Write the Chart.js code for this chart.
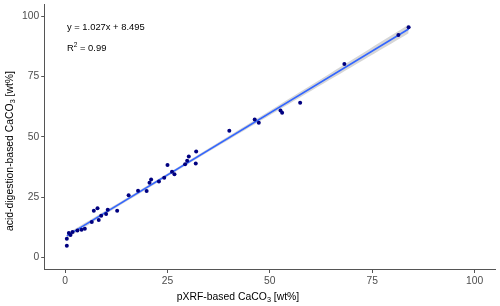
<!DOCTYPE html>
<html>
<head>
<meta charset="utf-8">
<script src="https://cdn.jsdelivr.net/npm/chart.js@4/dist/chart.umd.min.js"></script>
<style>
    html, body { margin: 0; padding: 0; background: #fff; }
    #wrap { width: 500px; height: 306px; }
</style>
</head>
<body>
<div id="wrap"><canvas id="caco3Chart" width="500" height="306"></canvas></div>
<script>
// pXRF vs acid-digestion CaCO3
const pxrfValues = [0.4, 0.4, 0.9, 1.3, 1.8, 3.0, 4.0, 4.8, 6.5, 7.0, 7.9, 8.2, 8.8, 10.0, 10.4, 12.7,
    15.5, 17.8, 19.9, 20.6, 21.0, 22.9, 24.2, 25.0, 26.1, 26.7, 29.3, 29.8, 30.2, 31.9, 32.0,
    40.1, 46.3, 47.3, 52.6, 53.0, 57.4, 68.2, 81.4, 83.9];
const acidValues = [4.8, 7.7, 10.1, 9.3, 10.5, 11.2, 11.5, 11.9, 14.7, 19.3, 20.4, 15.5, 17.3, 18.0, 19.8, 19.3,
    25.8, 27.6, 27.5, 30.9, 32.3, 31.5, 33.0, 38.3, 35.5, 34.5, 38.6, 40.1, 41.8, 38.9, 43.9,
    52.5, 57.1, 55.8, 60.9, 59.9, 64.1, 80.1, 92.2, 95.4];
const tickValues = [0, 25, 50, 75, 100];
const fitSlope = 1.027;
const fitIntercept = 8.495;
const fitLabel = 'y = 1.027x + 8.495';
const r2Label = '0.99';

const FONT = '"Liberation Sans", Arial, Helvetica, sans-serif';

const points = pxrfValues.map((x, i) => ({ x, y: acidValues[i] }));
const xMin = Math.min(...pxrfValues);
const xMax = Math.max(...pxrfValues);
const fitLine = [xMin, xMax].map(x => ({ x, y: fitIntercept + fitSlope * x }));

// 95% confidence band of the linear fit (like geom_smooth(method = "lm"))
function confidenceBand() {
    const n = pxrfValues.length;
    const xbar = pxrfValues.reduce((a, b) => a + b, 0) / n;
    const sxx = pxrfValues.reduce((a, x) => a + (x - xbar) ** 2, 0);
    const sse = pxrfValues.reduce((a, x, i) => a + (acidValues[i] - fitIntercept - fitSlope * x) ** 2, 0);
    const s = Math.sqrt(sse / (n - 2));
    const t = 2.024;
    const upper = [], lower = [];
    const steps = 60;
    for (let k = 0; k <= steps; k++) {
        const x = xMin + (xMax - xMin) * k / steps;
        const yhat = fitIntercept + fitSlope * x;
        const half = t * s * Math.sqrt(1 / n + (x - xbar) ** 2 / sxx);
        upper.push({ x, y: yhat + half });
        lower.push({ x, y: yhat - half });
    }
    return { upper, lower };
}
const band = confidenceBand();

// text with a sub/superscript piece
function richWidth(ctx, parts, size) {
    return parts.reduce((w, p) => {
        ctx.font = `${p.script ? size * 0.7 : size}px ${FONT}`;
        return w + ctx.measureText(p.t).width;
    }, 0);
}
function drawRich(ctx, parts, x, y, size, align) {
    const total = richWidth(ctx, parts, size);
    let cx = align === 'center' ? x - total / 2 : x;
    ctx.textBaseline = 'middle';
    ctx.textAlign = 'left';
    parts.forEach(p => {
        const s = p.script ? size * 0.7 : size;
        ctx.font = `${s}px ${FONT}`;
        const dy = p.script === 'sub' ? size * 0.3 : p.script === 'sup' ? -size * 0.35 : 0;
        ctx.fillText(p.t, cx, y + dy);
        cx += ctx.measureText(p.t).width;
    });
}

const labelsPlugin = {
    id: 'labels',
    afterDraw(chart) {
        const ctx = chart.ctx;
        ctx.save();
        ctx.fillStyle = '#000';
        drawRich(ctx, [{ t: 'pXRF-based CaCO' }, { t: '3', script: 'sub' }, { t: ' [wt%]' }], 238, 297, 10.4, 'center');
        ctx.save();
        ctx.translate(10, 151);
        ctx.rotate(-Math.PI / 2);
        drawRich(ctx, [{ t: 'acid-digestion-based CaCO' }, { t: '3', script: 'sub' }, { t: ' [wt%]' }], 0, 0, 10.4, 'center');
        ctx.restore();
        drawRich(ctx, [{ t: fitLabel }], 67, 27, 9.4, 'left');
        drawRich(ctx, [{ t: 'R' }, { t: '2', script: 'sup' }, { t: ' = ' + r2Label }], 67, 48.5, 9.4, 'left');
        ctx.restore();
    }
};

const axisStyle = {
    type: 'linear',
    min: -5,
    max: 105,
    afterBuildTicks: (scale) => { scale.ticks = tickValues.map(v => ({ value: v })); },
    grid: { display: true, drawOnChartArea: false, drawTicks: true, tickLength: 3.5, tickColor: '#555', lineWidth: 1 },
    border: { display: true, color: '#555', width: 1 },
    ticks: { color: '#4d4d4d', font: { family: FONT, size: 10.3 }, padding: 2 }
};

new Chart(document.getElementById('caco3Chart').getContext('2d'), {
    type: 'scatter',
    data: {
        datasets: [
            { label: 'samples', data: points, backgroundColor: '#000080', borderColor: '#000080', pointRadius: 2, borderWidth: 0 },
            { label: 'fit', data: fitLine, showLine: true, borderColor: '#3366FF', borderWidth: 1.6, pointRadius: 0 },
            { label: 'upper', data: band.upper, showLine: true, borderWidth: 0, borderColor: 'rgba(0,0,0,0)', pointRadius: 0, fill: '+1', backgroundColor: 'rgba(153,153,153,0.4)' },
            { label: 'lower', data: band.lower, showLine: true, borderWidth: 0, borderColor: 'rgba(0,0,0,0)', pointRadius: 0, fill: false }
        ]
    },
    options: {
        responsive: false,
        animation: false,
        devicePixelRatio: 1,
        layout: { padding: { top: 4, right: 5, left: 0, bottom: 0 } },
        plugins: { legend: { display: false }, tooltip: { enabled: false } },
        scales: {
            x: { ...axisStyle, afterFit: (scale) => { scale.height = 36.5; scale.paddingLeft = 0; scale.paddingRight = 0; } },
            y: { ...axisStyle, afterFit: (scale) => { scale.width = 44.7; scale.paddingTop = 0; scale.paddingBottom = 0; } }
        }
    },
    plugins: [labelsPlugin]
});
</script>
</body>
</html>
